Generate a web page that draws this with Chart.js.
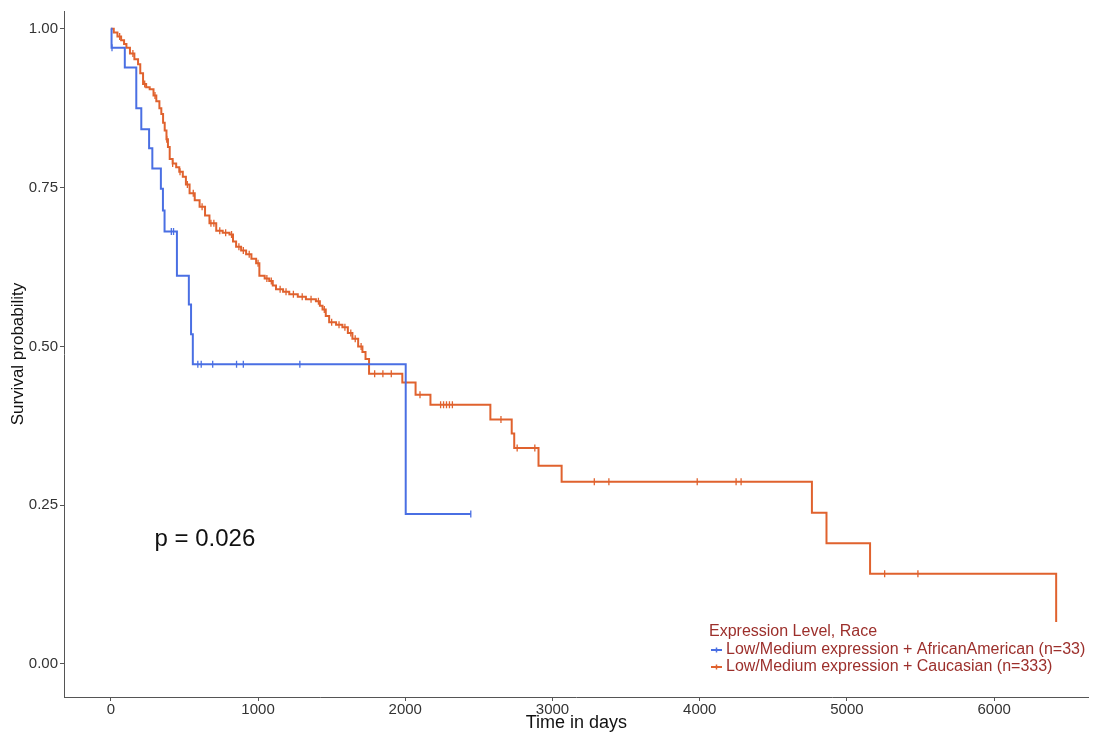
<!DOCTYPE html>
<html>
<head>
<meta charset="utf-8">
<script src="https://cdn.jsdelivr.net/npm/chart.js@4/dist/chart.umd.min.js"></script>
<style>
  body { margin: 0; background: #fff; }
  #km { display: block; }
</style>
</head>
<body>
<canvas id="km" width="1094" height="735"></canvas>
<script>
// Kaplan-Meier curves (day, survival after step)
const afrDays = [0, 5, 95, 173, 207, 260, 282, 340, 354, 365, 449, 530, 545, 557, 2003, 2445];
const afrSurv = [1.0, 0.970, 0.939, 0.875, 0.842, 0.812, 0.780, 0.748, 0.714, 0.681, 0.611, 0.566, 0.519, 0.472, 0.236, 0.236];

const cauDays = [0, 20, 45, 70, 90, 106, 130, 160, 185, 200, 219, 240, 264, 290, 309, 330, 343, 355, 366, 378, 388, 400,
  420, 444, 465, 489, 510, 535, 570, 603, 640, 670, 716, 760, 806, 830, 851, 885, 919, 955, 987, 1009, 1045, 1076,
  1100, 1122, 1170, 1212, 1270, 1325, 1393, 1420, 1438, 1460, 1483, 1530, 1573, 1610, 1641, 1680, 1709, 1730, 1754,
  1980, 2070, 2171, 2578, 2723, 2740, 2905, 3062, 4762, 4861, 5157, 6421];
const cauSurv = [1.0, 0.994, 0.988, 0.982, 0.976, 0.970, 0.961, 0.952, 0.944, 0.930, 0.913, 0.908, 0.905, 0.895, 0.886,
  0.875, 0.866, 0.852, 0.840, 0.826, 0.814, 0.795, 0.788, 0.782, 0.775, 0.767, 0.755, 0.741, 0.730, 0.720, 0.706, 0.694,
  0.682, 0.679, 0.676, 0.665, 0.657, 0.651, 0.645, 0.638, 0.631, 0.611, 0.607, 0.603, 0.596, 0.590, 0.586, 0.582,
  0.578, 0.574, 0.571, 0.564, 0.558, 0.548, 0.538, 0.534, 0.530, 0.521, 0.512, 0.500, 0.491, 0.480, 0.457, 0.443,
  0.424, 0.408, 0.385, 0.363, 0.340, 0.312, 0.287, 0.238, 0.190, 0.142, 0.066];

// censored times (tick marks)
const afrCensor = [8, 411, 426, 591, 614, 692, 854, 900, 1284, 2445];
const cauCensor = [60, 150, 230, 300, 380, 420, 470, 520, 560, 620, 680, 700, 740, 780, 820, 870, 900, 940, 1000,
  1060, 1090, 1150, 1190, 1240, 1300, 1360, 1410, 1450, 1500, 1550, 1590, 1630, 1660, 1700, 1792, 1848, 1905,
  2100, 2240, 2260, 2280, 2300, 2320, 2650, 2760, 2880, 3284, 3383, 3983, 4247, 4281, 5256, 5482];

const xTicks = [0, 1000, 2000, 3000, 4000, 5000, 6000];
const yTicks = [0, 0.25, 0.5, 0.75, 1];

const legendTitle = "Expression Level, Race";
const legendLabels = ["Low/Medium expression + AfricanAmerican (n=33)", "Low/Medium expression + Caucasian (n=333)"];
const pText = "p = 0.026";

const BLUE = "#4a6fe3";
const ORANGE = "#e0622e";
const LEGEND_RED = "#9c2f2b";
const FONT = "'Liberation Sans', Arial, sans-serif";

function toPoints(days, surv) {
  return days.map((d, i) => ({ x: d, y: surv[i] }));
}

function levelAt(days, surv, t) {
  let v = surv[0];
  for (let i = 0; i < days.length; i++) {
    if (days[i] <= t) v = surv[i];
  }
  return v;
}

function censorPoints(times, days, surv) {
  return times.map((t) => ({ x: t, y: levelAt(days, surv, t) }));
}

const annotations = {
  id: "annotations",
  afterDatasetsDraw(chart) {
    const { ctx, scales } = chart;
    ctx.save();
    // p value
    ctx.fillStyle = "#111";
    ctx.font = "24px " + FONT;
    ctx.textBaseline = "alphabetic";
    ctx.textAlign = "left";
    ctx.fillText(pText, scales.x.getPixelForValue(297), scales.y.getPixelForValue(0.185));

    // legend
    const lx = 709;
    ctx.textBaseline = "middle";
    ctx.font = "16px " + FONT;
    ctx.fillStyle = LEGEND_RED;
    ctx.fillText(legendTitle, lx, 632);
    const colors = [BLUE, ORANGE];
    legendLabels.forEach((label, i) => {
      const y = 650 + i * 17;
      ctx.strokeStyle = colors[i];
      ctx.lineWidth = 2;
      ctx.beginPath();
      ctx.moveTo(lx + 2, y);
      ctx.lineTo(lx + 13, y);
      ctx.stroke();
      ctx.lineWidth = 1.5;
      ctx.beginPath();
      ctx.moveTo(lx + 7.5, y - 2.5);
      ctx.lineTo(lx + 7.5, y + 2.5);
      ctx.stroke();
      ctx.fillStyle = LEGEND_RED;
      ctx.fillText(label, lx + 17, y);
    });
    ctx.restore();
  },
};

const ctx = document.getElementById("km");

new Chart(ctx, {
  type: "line",
  data: {
    datasets: [
      {
        label: legendLabels[0],
        data: toPoints(afrDays, afrSurv),
        borderColor: BLUE,
        borderWidth: 2,
        stepped: true,
        pointRadius: 0,
        fill: false,
      },
      {
        label: legendLabels[1],
        data: toPoints(cauDays, cauSurv),
        borderColor: ORANGE,
        borderWidth: 2,
        stepped: true,
        pointRadius: 0,
        fill: false,
      },
      {
        label: "afr censor",
        data: censorPoints(afrCensor, afrDays, afrSurv),
        showLine: false,
        pointStyle: "line",
        rotation: 90,
        pointRadius: 3.5,
        pointBorderWidth: 1.3,
        borderColor: BLUE,
        backgroundColor: BLUE,
      },
      {
        label: "cau censor",
        data: censorPoints(cauCensor, cauDays, cauSurv),
        showLine: false,
        pointStyle: "line",
        rotation: 90,
        pointRadius: 3.5,
        pointBorderWidth: 1.3,
        borderColor: ORANGE,
        backgroundColor: ORANGE,
      },
    ],
  },
  options: {
    responsive: false,
    animation: false,
    layout: { padding: { left: 0, right: -1, top: 6, bottom: 0 } },
    plugins: {
      legend: { display: false },
      tooltip: { enabled: false },
    },
    scales: {
      x: {
        type: "linear",
        min: -318,
        max: 6642,
        afterBuildTicks: (scale) => {
          scale.ticks = xTicks.map((v) => ({ value: v }));
        },
        afterFit: (scale) => {
          scale.height = 38;
          scale.paddingLeft = 0;
          scale.paddingRight = 0;
        },
        border: { display: true, color: "#555", width: 1 },
        grid: { drawOnChartArea: false, tickLength: 4, color: "#555" },
        ticks: {
          color: "#333",
          padding: 0,
          font: { size: 15, family: FONT },
          maxRotation: 0,
          callback: (v) => String(v),
        },
        title: {
          display: true,
          text: "Time in days",
          color: "#111",
          padding: { top: 0, bottom: 1 },
          font: { size: 18, family: FONT },
        },
      },
      y: {
        type: "linear",
        min: -0.052,
        max: 1.028,
        afterBuildTicks: (scale) => {
          scale.ticks = yTicks.map((v) => ({ value: v }));
        },
        afterFit: (scale) => {
          scale.width = 64;
        },
        border: { display: true, color: "#555", width: 1 },
        grid: { drawOnChartArea: false, tickLength: 4, color: "#555" },
        ticks: {
          color: "#333",
          padding: 2,
          font: { size: 15, family: FONT },
          callback: (v) => Number(v).toFixed(2),
        },
        title: {
          display: true,
          text: "Survival probability",
          color: "#111",
          padding: { top: 8, bottom: 0 },
          font: { size: 17, family: FONT },
        },
      },
    },
  },
  plugins: [annotations],
});
</script>
</body>
</html>
